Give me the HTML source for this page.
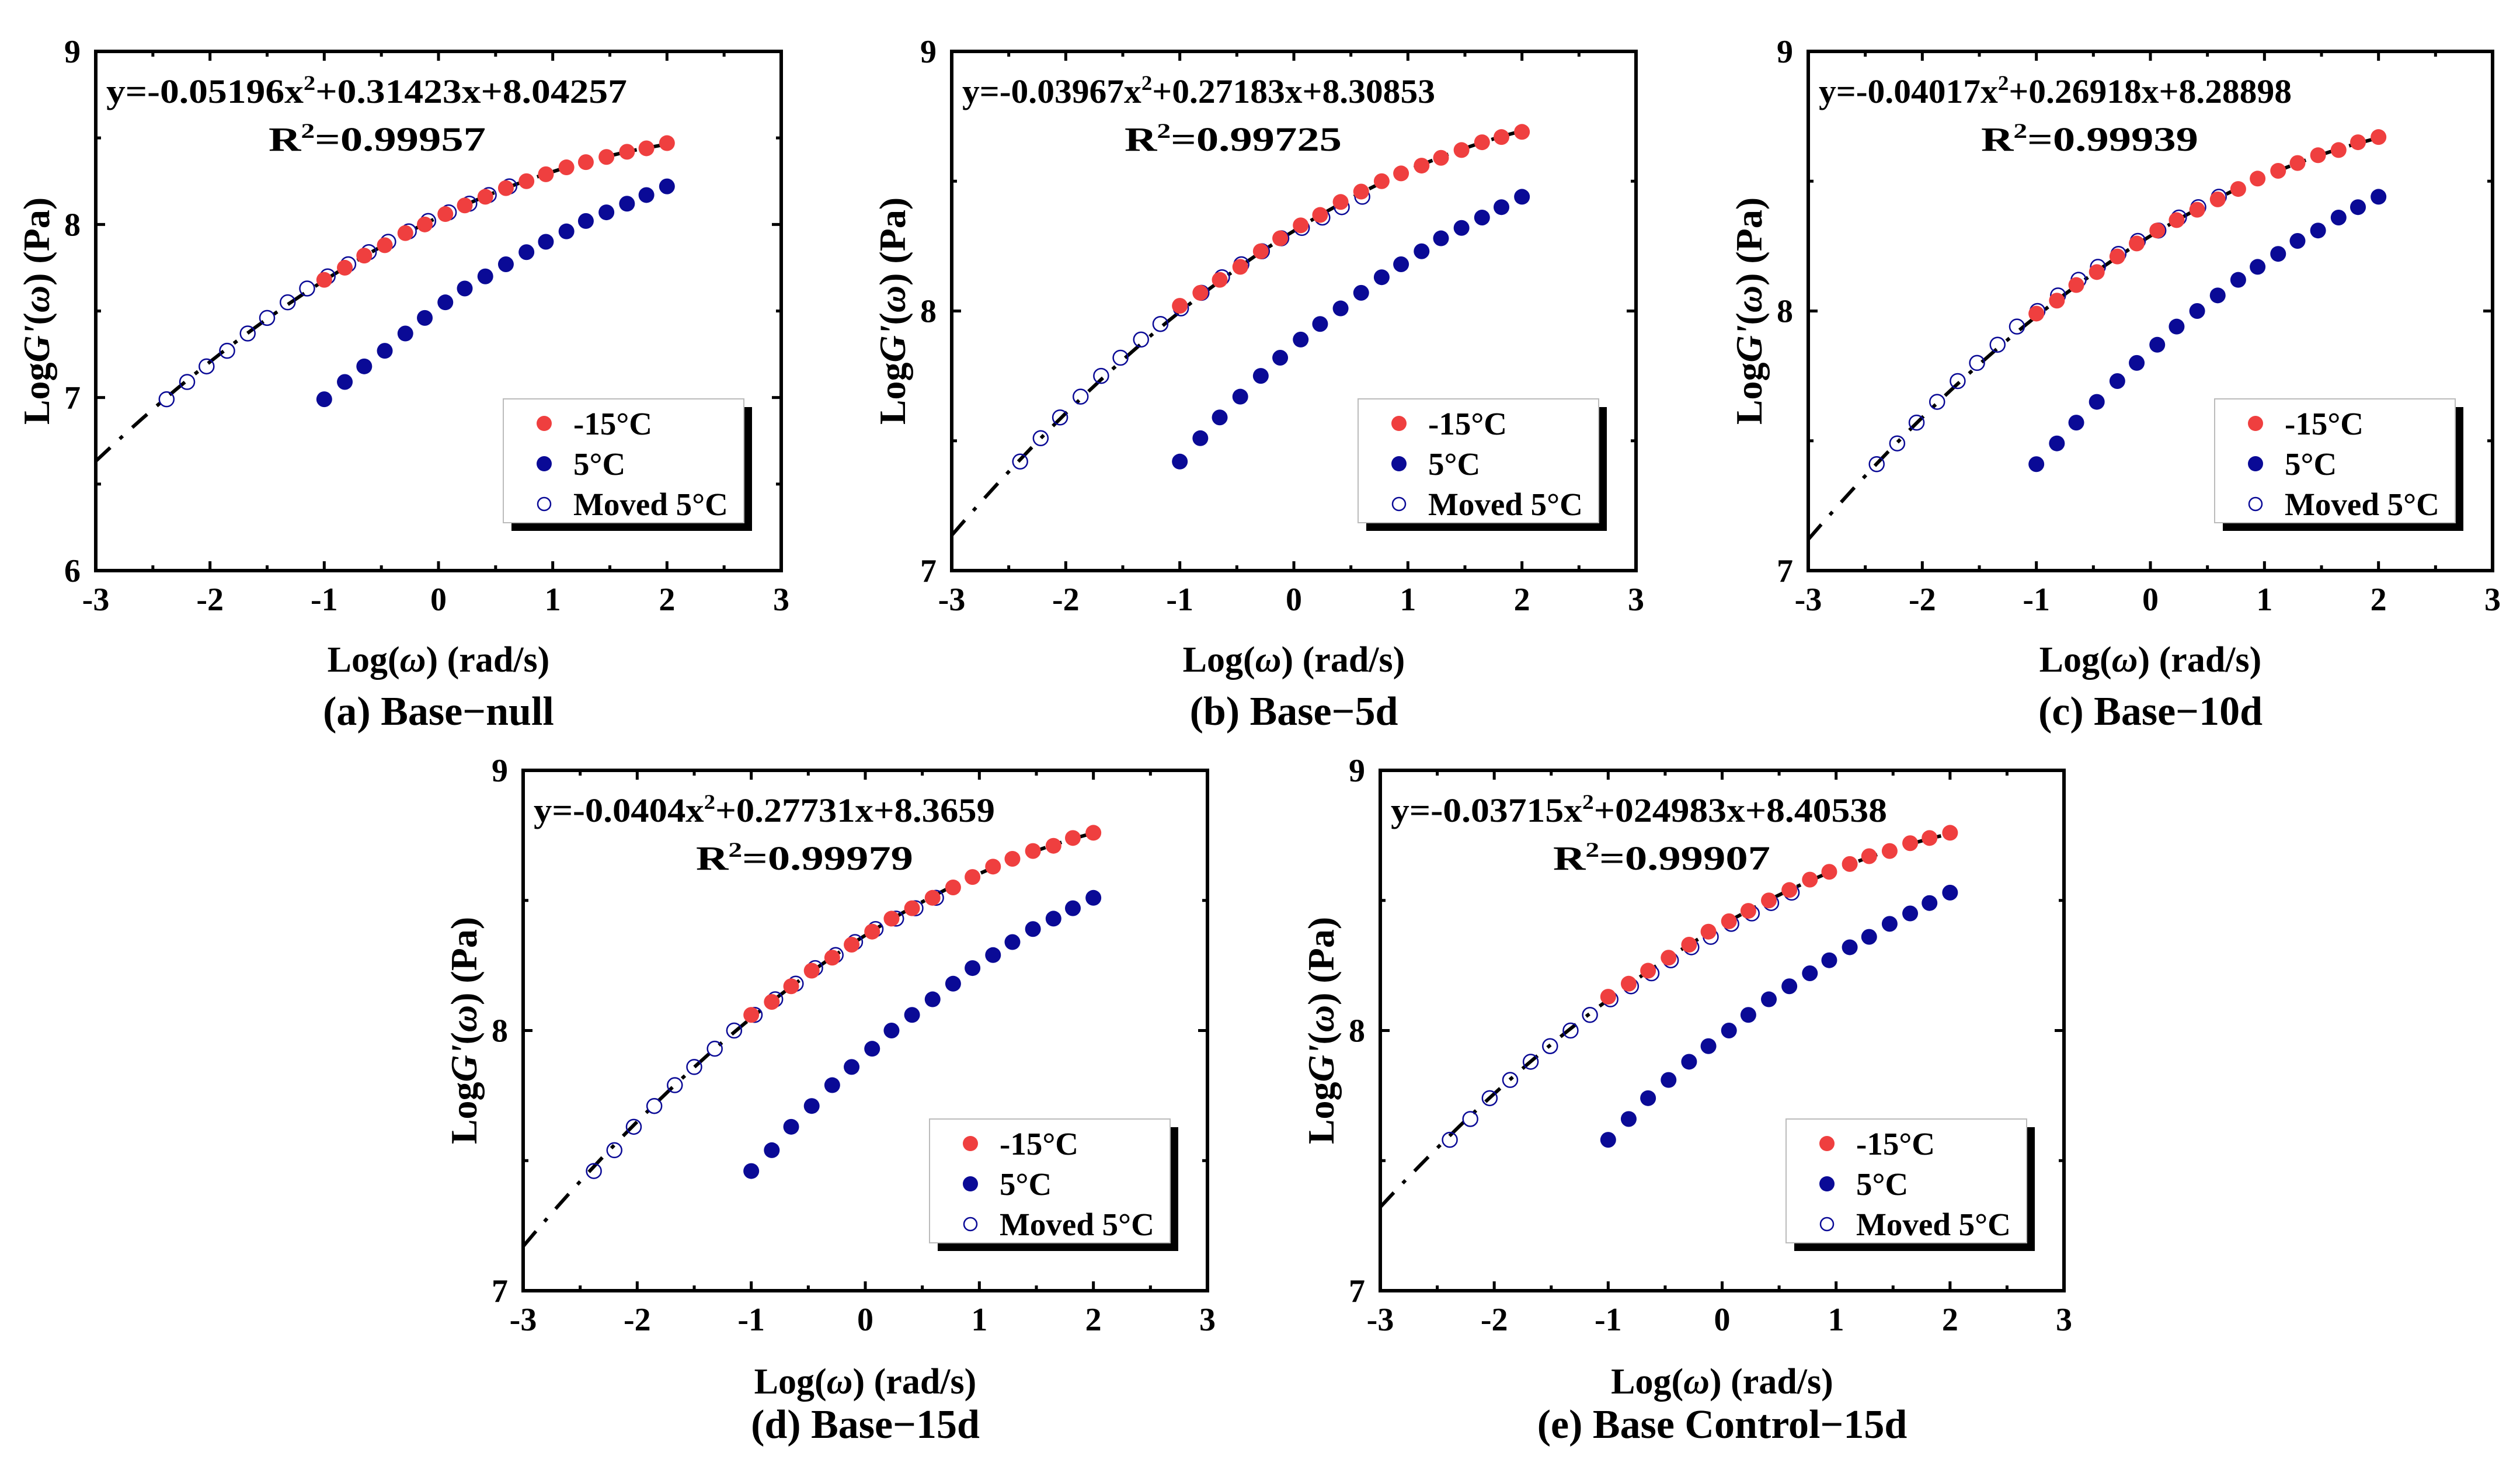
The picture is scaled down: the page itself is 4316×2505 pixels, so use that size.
<!DOCTYPE html>
<html><head><meta charset="utf-8"><style>
html,body{margin:0;padding:0;background:#fff;}
svg{display:block;font-family:"Liberation Serif",serif;font-weight:bold;}
</style></head><body>
<svg id="fig" width="4316" height="2505" viewBox="0 0 4316 2505" xmlns="http://www.w3.org/2000/svg"></svg>
<script>
// ---- data ----
const xFreq = [-1,-0.82,-0.65,-0.47,-0.29,-0.12,0.06,0.23,0.41,0.59,0.77,0.94,1.12,1.29,1.47,1.65,1.82,2.0];
const xTicks = [-3,-2,-1,0,1,2,3];
const panelNames = ["a","b","c","d","e"];
const captions = ["(a) Base\u2212null","(b) Base\u22125d","(c) Base\u221210d","(d) Base\u221215d","(e) Base Control\u221215d"];
const equations = ["-0.05196x|+0.31423x+8.04257","-0.03967x|+0.27183x+8.30853","-0.04017x|+0.26918x+8.28898","-0.0404x|+0.27731x+8.3659","-0.03715x|+024983x+8.40538"];
const r2Labels = ["0.99957","0.99725","0.99939","0.99979","0.99907"];
const yMin = [6,7,7,7,7];
const yMaxV = [9,9,9,9,9];
const fitA = [-0.05196,-0.03967,-0.04017,-0.0404,-0.03715];
const fitB = [0.31423,0.27183,0.26918,0.27731,0.24983];
const fitC = [8.04257,8.30853,8.28898,8.3659,8.40538];
const shifts = [-1.38,-1.40,-1.40,-1.38,-1.39];
const redA = [7.68,7.75,7.82,7.88,7.95,8.00,8.06,8.11,8.16,8.21,8.25,8.29,8.33,8.36,8.39,8.42,8.44,8.47];
const redB = [8.02,8.07,8.12,8.17,8.23,8.28,8.33,8.37,8.42,8.46,8.50,8.53,8.56,8.59,8.62,8.65,8.67,8.69];
const redC = [7.99,8.04,8.10,8.15,8.21,8.26,8.31,8.35,8.39,8.43,8.47,8.51,8.54,8.57,8.60,8.62,8.65,8.67];
const redD = [8.06,8.11,8.17,8.23,8.28,8.33,8.38,8.43,8.47,8.51,8.55,8.59,8.63,8.66,8.69,8.71,8.74,8.76];
const redE = [8.13,8.18,8.23,8.28,8.33,8.38,8.42,8.46,8.50,8.54,8.58,8.61,8.64,8.67,8.69,8.72,8.74,8.76];
const blueA = [6.99,7.09,7.18,7.27,7.37,7.46,7.55,7.63,7.70,7.77,7.84,7.90,7.96,8.02,8.07,8.12,8.17,8.22];
const blueB = [7.42,7.51,7.59,7.67,7.75,7.82,7.89,7.95,8.01,8.07,8.13,8.18,8.23,8.28,8.32,8.36,8.40,8.44];
const blueC = [7.41,7.49,7.57,7.65,7.73,7.80,7.87,7.94,8.00,8.06,8.12,8.17,8.22,8.27,8.31,8.36,8.40,8.44];
const blueD = [7.46,7.54,7.63,7.71,7.79,7.86,7.93,8.00,8.06,8.12,8.18,8.24,8.29,8.34,8.39,8.43,8.47,8.51];
const blueE = [7.58,7.66,7.74,7.81,7.88,7.94,8.00,8.06,8.12,8.17,8.22,8.27,8.32,8.36,8.41,8.45,8.49,8.53];
const redSeries = [redA,redB,redC,redD,redE];
const blueSeries = [blueA,blueB,blueC,blueD,blueE];
const legendLabels = ["-15\u00B0C","5\u00B0C","Moved 5\u00B0C"];

// ---- layout ----
const boxes = [
  {l:164,r:1338,t:88,b:977},
  {l:1630,r:2802,t:88,b:977},
  {l:3097,r:4269,t:88,b:977},
  {l:896,r:2068,t:1319,b:2210},
  {l:2364,r:3535,t:1319,b:2210}
];
const NS="http://www.w3.org/2000/svg";
const svg=document.getElementById('fig');
function mk(tag,attrs,parent){const e=document.createElementNS(NS,tag);for(const k in attrs)e.setAttribute(k,attrs[k]);(parent||svg).appendChild(e);return e;}
const RED="#ef3f3f",BLUE="#0a0a96";

boxes.forEach((B,i)=>{
  const g=mk('g',{});
  
  
  const ymin=yMin[i],ymax=yMaxV[i];
  const sx=v=>B.l+(v+3)/6*(B.r-B.l);
  const sy=v=>B.b-(v-ymin)/(ymax-ymin)*(B.b-B.t);
  for(let v=-3;v<=3.001;v+=0.5){
    const major=Math.abs(v-Math.round(v))<0.01, L=major?16:9;
    const x=sx(v);
    const t1=mk('line',{x1:x,y1:B.b,x2:x,y2:B.b-L,stroke:'#000','stroke-width':5},g);
    
    
    mk('line',{x1:x,y1:B.t,x2:x,y2:B.t+L,stroke:'#000','stroke-width':5},g);
  }
  for(let v=ymin;v<=ymax+0.001;v+=0.5){
    const major=Math.abs(v-Math.round(v))<0.01, L=major?16:9;
    const y=sy(v);
    const t2=mk('line',{x1:B.l,y1:y,x2:B.l+L,y2:y,stroke:'#000','stroke-width':5},g);
    
    
    mk('line',{x1:B.r,y1:y,x2:B.r-L,y2:y,stroke:'#000','stroke-width':5},g);
    if(major){
      const tl=mk('text',{x:B.l-26,y:y+19,'text-anchor':'end','font-size':56},g);
      tl.textContent=String(v);
      
      
    }
  }
  xTicks.forEach(v=>{
    const tl=mk('text',{x:sx(v),y:B.b+68,'text-anchor':'middle','font-size':56},g);
    tl.textContent=String(v);
    
    
  });
  const fr=mk('rect',{x:B.l,y:B.t,width:B.r-B.l,height:B.b-B.t,fill:'none',stroke:'#000','stroke-width':6},g);
  
  
  let d='';
  for(let k=0;k<=100;k++){
    const x=-3+5*k/100;
    const y=fitA[i]*x*x+fitB[i]*x+fitC[i];
    d+=(k?'L':'M')+sx(x).toFixed(1)+' '+sy(y).toFixed(1);
  }
  const fit=mk('path',{d:d,fill:'none',stroke:'#000','stroke-width':6,'stroke-dasharray':'34 22 7 22'},g);
  
  
  const red=redSeries[i],blue=blueSeries[i];
  xFreq.forEach((x,k)=>{
    const c=mk('circle',{cx:sx(x+shifts[i]),cy:sy(blue[k]),r:12.5,fill:'none',stroke:BLUE,'stroke-width':2.5},g);
    
    
  });
  xFreq.forEach((x,k)=>{
    const c=mk('circle',{cx:sx(x),cy:sy(red[k]),r:13.5,fill:RED},g);
    
    
  });
  xFreq.forEach((x,k)=>{
    const c=mk('circle',{cx:sx(x),cy:sy(blue[k]),r:13.5,fill:BLUE},g);
    
    
  });
  const parts=equations[i].split('|');
  const eqW=[892,810,810,790,850][i];
  const eq=mk('text',{x:B.l+18,y:B.t+88,'font-size':58,textLength:eqW,lengthAdjust:'spacingAndGlyphs'},g);
  
  
  let s1=mk('tspan',{},eq);s1.textContent='y='+parts[0];
  let s2=mk('tspan',{dy:-22,'font-size':36},eq);s2.textContent='2';
  let s3=mk('tspan',{dy:22},eq);s3.textContent=parts[1];
  const r2=mk('text',{x:B.l+296,y:B.t+170,'font-size':58,textLength:372,lengthAdjust:'spacingAndGlyphs'},g);
  
  
  let q1=mk('tspan',{},r2);q1.textContent='R';
  let q2=mk('tspan',{dy:-22,'font-size':36},r2);q2.textContent='2';
  let q3=mk('tspan',{dy:22},r2);q3.textContent='='+r2Labels[i];
  const lx=B.r-476,ly=B.b-294,lw=412,lh=212;
  const lg=mk('g',{},g);
  
  
  mk('rect',{x:lx+14,y:ly+14,width:lw,height:lh,fill:'#000'},lg);
  mk('rect',{x:lx,y:ly,width:lw,height:lh,fill:'#fff',stroke:'#bbb','stroke-width':2},lg);
  legendLabels.forEach((lab,k)=>{
    const cy=ly+42+k*69;
    const e=mk('g',{},lg);
    
    
    if(k<2) mk('circle',{cx:lx+70,cy:cy,r:13,fill:k==0?RED:BLUE},e);
    else mk('circle',{cx:lx+70,cy:cy,r:11,fill:'none',stroke:BLUE,'stroke-width':2.5},e);
    const t=mk('text',{x:lx+120,y:cy+19,'font-size':55},e);
    t.textContent=lab;
  });
  const xt=mk('text',{x:(B.l+B.r)/2,y:B.b+(i<3?173:176),'text-anchor':'middle','font-size':62},g);
  
  
  let a1=mk('tspan',{},xt);a1.textContent='Log(';
  let a2=mk('tspan',{'font-style':'italic'},xt);a2.textContent='\u03C9';
  let a3=mk('tspan',{},xt);a3.textContent=') (rad/s)';
  const cyT=(B.t+B.b)/2, cxT=B.l-80;
  const yt=mk('text',{x:cxT,y:cyT,'text-anchor':'middle','font-size':64,transform:`rotate(-90 ${cxT} ${cyT})`},g);
  
  
  let b1=mk('tspan',{},yt);b1.textContent='Log';
  let b2=mk('tspan',{'font-style':'italic'},yt);b2.textContent='G\'';
  let b3=mk('tspan',{},yt);b3.textContent='(';
  let b4=mk('tspan',{'font-style':'italic'},yt);b4.textContent='\u03C9';
  let b5=mk('tspan',{},yt);b5.textContent=') (Pa)';
  const cap=mk('text',{x:(B.l+B.r)/2,y:i<3?B.b+264:B.b+252,'text-anchor':'middle','font-size':70},g);
  
  
  cap.textContent=captions[i];
});
</script>
</body></html>
